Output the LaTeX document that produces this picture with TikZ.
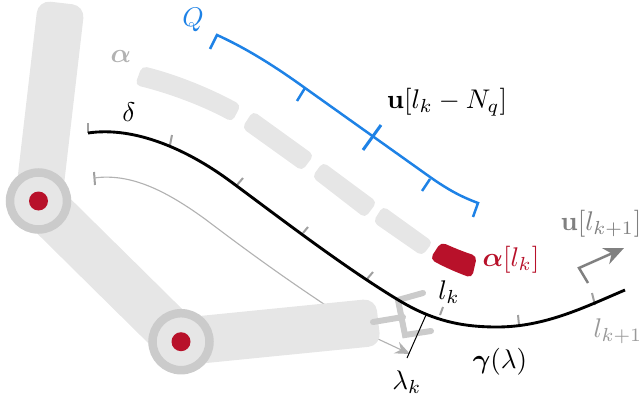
\documentclass[tikz,border=0pt]{standalone}
\usepackage{amsmath,amsfonts,bm}
\usetikzlibrary{arrows.meta}
\definecolor{linkgray}{HTML}{E6E6E6}
\definecolor{ringgray}{HTML}{CBCBCB}
\definecolor{tickgray}{HTML}{A0A0A0}
\definecolor{jointred}{HTML}{B8112A}
\definecolor{qblue}{HTML}{1E82E6}
\tikzset{
  px/.style={x=0.4pt,y=-0.4pt},
  linkbody/.style={fill=linkgray,draw=none,rounded corners=5pt},
  alphaseg/.style={fill=linkgray,draw=none,rounded corners=2pt},
  ticksty/.style={draw=tickgray,line width=0.8pt},
  bluesty/.style={draw=qblue,line width=1pt},
  gripper/.style={draw=ringgray,line width=2.4pt,line cap=round},
  lbl/.style={inner sep=0pt,outer sep=0pt,scale=1.08},
  ringsty/.style={circle,fill=linkgray,draw=ringgray,line width=3.4pt,minimum size=22.8pt,inner sep=0pt},
  hubsty/.style={circle,fill=jointred,draw=none,minimum size=7.6pt,inner sep=0pt}
}
\begin{document}
\begin{tikzpicture}[px]
\useasboundingbox (0,0) rectangle (639,399);
% thin reference path
\coordinate (ts) at (94,178);
\coordinate (te) at (410,354);
\draw[ticksty] (94,172) -- (95,185);
\draw[draw=black!30,line width=0.45pt,-{Stealth[length=6pt,width=5pt]}] (ts) .. controls (130,173) and (165,190) .. (205,219) .. controls (250,253) and (300,290) .. (378,339) -- (te);
% links
\fill[linkbody] (38.2,0.3) -- (84.8,5.7) -- (61.8,203.7) -- (15.2,198.3) -- cycle;
\fill[linkgray] (55.4,183.9) -- (197.9,324.6) -- (164.1,358.8) -- (21.6,218.1) -- cycle;
\fill[linkbody] (178.6,318.1) -- (375.6,298.4) -- (381,345.6) -- (183.4,365.3) -- cycle;
% gripper
\draw[gripper] (373,322) -- (403,317);
\draw[gripper] (423,293) -- (398,300) -- (405,335) -- (431,331);
% alpha segments
\fill[alphaseg] (142,66) .. controls (175,74) and (210,88) .. (241,105) -- (232,122) .. controls (203,106) and (168,93) .. (135,85) -- cycle;
\fill[alphaseg] (253,111) -- (314,155) -- (302,171) -- (242,128) -- cycle;
\fill[alphaseg] (323,162) -- (377,202) -- (365,218) -- (312,177) -- cycle;
\fill[alphaseg] (383,206) -- (433,242) -- (422,256) -- (373,222) -- cycle;
\fill[jointred,rounded corners=2pt] (441,242) .. controls (452,247) and (464,252) .. (477,256) -- (472,278) .. controls (458,273) and (444,267) .. (430,259) -- cycle;
% ticks on main curve
\draw[ticksty] (88,133) -- (88,123);
\draw[ticksty] (170,145) -- (172,135);
\draw[ticksty] (237,185) -- (243,178);
\draw[ticksty] (303,233) -- (308,227);
\draw[ticksty] (367,279) -- (373,272);
\draw[ticksty] (440,315) -- (443,307);
\draw[ticksty] (519,325) -- (518,315);
\draw[ticksty] (595,305) -- (592,293);
% main curve
\draw[black,line width=1.15pt] (88,133) .. controls (135,126) and (188,150) .. (230,181) .. controls (280,218) and (345,268) .. (400,301) .. controls (435,322) and (465,327) .. (497,327) .. controls (545,327) and (585,307) .. (625,290);
% blue curve
\draw[bluesty] (210,49) -- (217,35) .. controls (250,50) and (280,70) .. (305,88) -- (430,177) .. controls (450,191) and (462,197) .. (478,203) -- (473,217);
\draw[bluesty] (305,88) -- (297,101);
\draw[bluesty,line width=1.2pt] (381,125) -- (363,150);
\draw[bluesty] (430,179) -- (422,191);
% lambda_k marker
\coordinate (ma) at (426,315);
\coordinate (mb) at (407,358);
\draw[black,line width=0.4pt] (ma) -- (mb);
% joints
\node[ringsty] (j1) at (38.5,201) {};
\node[hubsty] (h1) at (38.5,201) {};
\node[ringsty] (j2) at (181,341.7) {};
\node[hubsty] (h2) at (181,341.7) {};
% velocity arrow
\coordinate (ua) at (588,283);
\coordinate (ub) at (579,268);
\coordinate (uc) at (624,248);
\draw[draw=black!50,line width=1pt,-{Stealth[length=8pt,width=7pt]}] (ua) -- (ub) -- (uc);
% labels
\node[lbl,text=qblue] (lq) at (193,20) {$Q$};
\node[lbl,text=black!30] (la) at (121,57) {$\bm{\alpha}$};
\node[lbl] (ld) at (129,112) {$\delta$};
\node[lbl] (lu) at (447,102) {$\mathbf{u}[l_k-N_q]$};
\node[lbl,text=jointred] (lar) at (511,260) {$\bm{\alpha}[l_k]$};
\node[lbl,text=black!50] (luk) at (601,224) {$\mathbf{u}[l_{k+1}]$};
\node[lbl,text=black!40] (llk) at (618,331) {$l_{k+1}$};
\node[lbl] (ll) at (449,292) {$l_k$};
\node[lbl] (ld2) at (407,382) {$\lambda_k$};
\node[lbl] (lg) at (500,362) {$\bm{\gamma}(\lambda)$};
\end{tikzpicture}
\end{document}
